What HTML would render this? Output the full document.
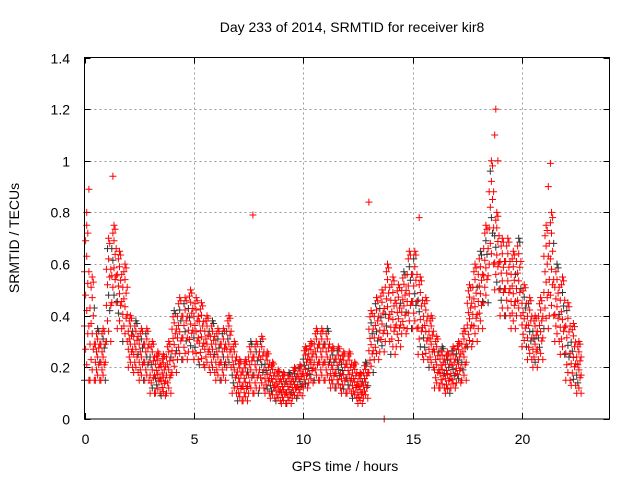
<!DOCTYPE html>
<html><head><meta charset="utf-8"><style>
body{margin:0;background:#fff}
svg{display:block;font-family:"Liberation Sans",sans-serif}
</style></head><body>
<svg id="chart" width="640" height="480">
<text x="352" y="32" font-size="14" text-anchor="middle">Day 233 of 2014, SRMTID for receiver kir8</text>
<text transform="translate(19,238) rotate(-90)" font-size="14" text-anchor="middle">SRMTID / TECUs</text>
<text x="345" y="471" font-size="14" text-anchor="middle">GPS time / hours</text>
<g id="grid"></g>
<g id="ticks"></g>
<path id="blackpts" fill="none" stroke="#333" stroke-width="1"/>
<path id="redpts" fill="none" stroke="#f00" stroke-width="1"/>
<rect x="84.5" y="57.5" width="525" height="361.5" fill="none" stroke="#000" stroke-width="1"/>
</svg>
<script>
const xTicks=[0,5,10,15,20];
const yTicks=[0,0.2,0.4,0.6,0.8,1,1.2,1.4];
const yTickLabels=["0","0.2","0.4","0.6","0.8","1","1.2","1.4"];
const binStart=0, binStep=0.25;
const binMid=[0.45,0.35,0.25,0.25,0.5,0.6,0.5,0.45,
0.3,0.28,0.25,0.25,0.2,0.18,0.17,0.2,
0.3,0.35,0.35,0.38,0.35,0.33,0.3,0.28,
0.25,0.25,0.3,0.2,0.15,0.15,0.2,0.2,
0.22,0.18,0.15,0.13,0.12,0.12,0.14,0.15,
0.2,0.22,0.25,0.25,0.25,0.2,0.2,0.18,
0.18,0.15,0.12,0.15,0.3,0.35,0.38,0.45,
0.4,0.4,0.45,0.5,0.5,0.4,0.35,0.3,
0.22,0.2,0.18,0.2,0.22,0.25,0.4,0.45,
0.5,0.6,0.8,0.65,0.55,0.55,0.5,0.55,
0.4,0.35,0.3,0.35,0.55,0.6,0.45,0.4,
0.3,0.25,0.2];
const binSpread=[0.3,0.2,0.1,0.1,0.2,0.15,0.15,0.15,
0.1,0.1,0.1,0.1,0.1,0.08,0.08,0.1,
0.12,0.12,0.12,0.12,0.12,0.12,0.1,0.1,
0.1,0.1,0.1,0.1,0.08,0.08,0.1,0.1,
0.1,0.08,0.07,0.06,0.06,0.06,0.06,0.06,
0.08,0.08,0.1,0.1,0.1,0.08,0.08,0.08,
0.08,0.07,0.06,0.07,0.12,0.12,0.12,0.15,
0.15,0.12,0.12,0.15,0.15,0.15,0.12,0.1,
0.1,0.08,0.08,0.08,0.08,0.1,0.12,0.15,
0.15,0.15,0.2,0.15,0.15,0.15,0.15,0.15,
0.12,0.12,0.1,0.12,0.2,0.2,0.15,0.15,
0.15,0.12,0.1];
const outlierX=[1.3,0.2,18.8,18.75,21.3,13.0,7.7,15.3,0.1,18.9,21.2,13.7];
const outlierY=[0.94,0.89,1.2,1.1,0.99,0.84,0.79,0.78,0.8,1.0,0.9,0.0];
const X0=84.5,X1=609.5,Y0=419,Y1=57.5;
const sx=v=>X0+v/24*(X1-X0);
const sy=v=>Y0-v/1.4*(Y0-Y1);
const ns="http://www.w3.org/2000/svg";
const grid=document.getElementById('grid'),ticks=document.getElementById('ticks');
function ln(p,x1,y1,x2,y2,st,da){const l=document.createElementNS(ns,'line');l.setAttribute('x1',x1);l.setAttribute('y1',y1);l.setAttribute('x2',x2);l.setAttribute('y2',y2);l.setAttribute('stroke',st);if(da)l.setAttribute('stroke-dasharray',da);p.appendChild(l);return l;}
function tx(x,y,s,a){const t=document.createElementNS(ns,'text');t.setAttribute('x',x);t.setAttribute('y',y);t.setAttribute('font-size','14');t.setAttribute('text-anchor',a);t.textContent=s;ticks.appendChild(t);return t;}
yTicks.forEach((v,i)=>{const y=Math.round(sy(v))+0.5;
 if(i>0&&i<yTicks.length-1){const g=ln(grid,X0,y,X1,y,'#999','2,3');

}
 ln(ticks,X0,y,X0+6,y,'#000');ln(ticks,X1-6,y,X1,y,'#000');
 const t=tx(70,y+5,yTickLabels[i],'end');

});
xTicks.forEach((v,i)=>{const x=Math.round(sx(v))+0.5;
 if(i>0){const g=ln(grid,x,Y1,x,Y0,'#999','2,3');

}
 ln(ticks,x,Y0,x,Y0-6,'#000');ln(ticks,x,Y1,x,Y1+6,'#000');
 const t=tx(x,444,String(v),'middle');

});
let red='',blk='';
const plus=(x,y)=>`M${(x-3.5).toFixed(1)} ${y.toFixed(1)}h7M${x.toFixed(1)} ${(y-3.5).toFixed(1)}v7`;
const fr=[[-1,-0.3,0.4],[-0.6,0.1,0.8],[-0.8,-0.1,0.6,1],[-0.4,0.25,0.9]];
binMid.forEach((m,i)=>{const s=binSpread[i];
 for(let k=0;k<5;k++){const t=binStart+i*binStep+k*0.05;
  fr[k%4].forEach((f,j)=>{const v=Math.max(0.02,m+f*s);
   const p=plus(sx(t),sy(v));
   if((i+k+j)%7===0)blk+=p;else red+=p;});}
});
outlierX.forEach((t,i)=>{red+=plus(sx(t),sy(outlierY[i]));});
document.getElementById('redpts').setAttribute('d',red);
document.getElementById('blackpts').setAttribute('d',blk);
</script>
</body></html>
